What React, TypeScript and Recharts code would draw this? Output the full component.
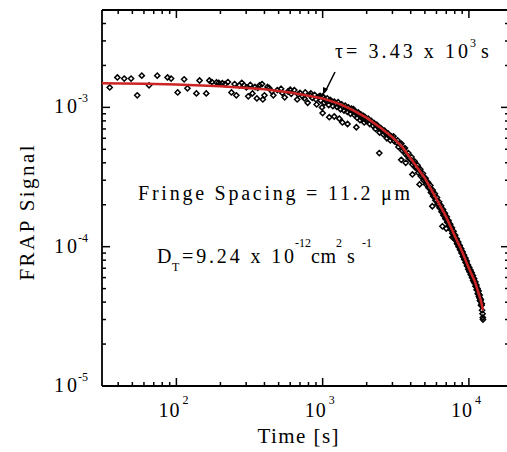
import { ComposedChart, Scatter, XAxis, YAxis, ReferenceLine } from "recharts";

const FONT = "Liberation Serif";
const INK = "#000";
const FIT_RED = "#cc2424";

// plot box in px (used only for tick marks on the opposite sides)
const PLOT_TOP = 10;
const PLOT_BOTTOM = 386;
const PLOT_LEFT = 102;
const PLOT_RIGHT = 509;

const X_DOMAIN = [31, 18800];
const Y_DOMAIN = [1e-5, 5e-3];

const xTicks = [
  40, 50, 60, 70, 80, 90, 100, 200, 300, 400, 500, 600, 700, 800, 900, 1000,
  2000, 3000, 4000, 5000, 6000, 7000, 8000, 9000, 10000,
];
const yTicks = [
  1e-5, 2e-5, 3e-5, 4e-5, 5e-5, 6e-5, 7e-5, 8e-5, 9e-5, 1e-4, 2e-4, 3e-4, 4e-4,
  5e-4, 6e-4, 7e-4, 8e-4, 9e-4, 1e-3, 2e-3, 3e-3, 4e-3,
];

// FRAP data (time in s, signal)
const earlyTime = [
  35, 39.5, 44, 49, 54, 58, 65, 74, 87, 92, 102, 113, 119, 137, 144, 160, 168,
  175, 188, 195, 206, 215, 225, 238, 250, 257, 270, 280, 290, 301, 310, 320,
  331, 345, 355, 360, 370, 385, 390, 400, 420,
];
const earlySignal = [
  1.39e-3, 1.64e-3, 1.61e-3, 1.61e-3, 1.22e-3, 1.69e-3, 1.44e-3, 1.69e-3,
  1.64e-3, 1.61e-3, 1.28e-3, 1.59e-3, 1.37e-3, 1.26e-3, 1.56e-3, 1.26e-3,
  1.56e-3, 1.52e-3, 1.51e-3, 1.5e-3, 1.49e-3, 1.47e-3, 1.52e-3, 1.28e-3,
  1.47e-3, 1.22e-3, 1.44e-3, 1.5e-3, 1.44e-3, 1.39e-3, 1.2e-3, 1.45e-3,
  1.26e-3, 1.4e-3, 1.16e-3, 1.38e-3, 1.44e-3, 1.47e-3, 1.14e-3, 1.22e-3,
  1.4e-3,
];

const midTime = [
  430, 450, 460, 490, 520, 530, 550, 580, 600, 610, 640, 670, 680, 700, 730,
  750, 760, 790, 820, 830, 850, 880, 900, 910, 940, 960, 970, 990, 1000, 1000,
];
const midSignal = [
  1.38e-3, 1.3e-3, 1.22e-3, 1.33e-3, 1.36e-3, 1.27e-3, 1.18e-3, 1.3e-3,
  1.34e-3, 1.25e-3, 1.33e-3, 1.14e-3, 1.24e-3, 1.27e-3, 1.2e-3, 1.16e-3,
  1.28e-3, 1.08e-3, 1.22e-3, 1.26e-3, 1.17e-3, 1.23e-3, 1.14e-3, 1.05e-3,
  1.19e-3, 1.21e-3, 1.12e-3, 1.0e-3, 9.1e-4, 1.2e-3,
];

const bandTime = [
  1000, 1025, 1050, 1075, 1100, 1125, 1150, 1175, 1200, 1225, 1250, 1275,
  1300, 1325, 1350, 1375, 1400, 1425, 1450, 1475, 1500, 1525, 1550, 1575,
  1600, 1625, 1650, 1675, 1700, 1725, 1750, 1775, 1800, 1825, 1850, 1875,
  1900, 1925, 1950, 1975, 2000, 2050, 2100, 2150, 2200, 2250, 2300, 2350,
  2400, 2450, 2500, 2550, 2600, 2650, 2700, 2750, 2800, 2850, 2900, 2950,
  3000, 1110, 1200, 1300, 1365, 1480, 1700, 2440,
];
const bandSignal = [
  1.19e-3, 1.08e-3, 1.12e-3, 1.16e-3, 1.04e-3, 1.13e-3, 1.11e-3, 1.02e-3,
  1.1e-3, 1.06e-3, 1.01e-3, 1.09e-3, 1.04e-3, 9.7e-4, 1.05e-3, 1.01e-3,
  9.5e-4, 1.03e-3, 9.9e-4, 9.3e-4, 1.0e-3, 9.6e-4, 9.0e-4, 9.8e-4, 9.4e-4,
  9.7e-4, 8.8e-4, 9.3e-4, 9.0e-4, 8.4e-4, 9.2e-4, 8.8e-4, 8.1e-4, 8.9e-4,
  8.6e-4, 8.3e-4, 8.7e-4, 7.8e-4, 8.5e-4, 8.2e-4, 8.0e-4, 8.3e-4, 7.6e-4,
  8.0e-4, 7.4e-4, 7.7e-4, 7.0e-4, 7.5e-4, 7.2e-4, 6.6e-4, 7.1e-4, 6.8e-4,
  6.4e-4, 6.8e-4, 6.5e-4, 6.0e-4, 6.5e-4, 6.2e-4, 5.8e-4, 6.2e-4, 6.0e-4,
  8.5e-4, 8.6e-4, 8.3e-4, 7.8e-4, 7.6e-4, 7.2e-4, 4.7e-4,
];

const tailTime = [
  3100, 3200, 3300, 3400, 3500, 3600, 3700, 3800, 3900, 4000, 4100, 4200,
  4300, 4400, 4500, 4600, 4700, 4800, 4900, 5000, 5100, 5200, 5300, 5400,
  5500, 5600, 5700, 5800, 5900, 6000, 6100, 6200, 6300, 6400, 6500, 6600,
  6700, 6800, 6900, 7000, 7100, 7200, 7300, 7400, 7500, 7600, 7700, 7800,
  7900, 8000, 8100, 8200, 8300, 8400, 8500, 8600, 8700, 8800, 8900, 9000,
  9100, 9200, 9300, 9400, 9500, 9600, 9700, 9800, 9900, 10000, 10100, 10200,
  10300, 10400, 10500, 10600, 10700, 10800, 10900, 11000, 11100, 11200, 11300,
  11400, 11500, 11600, 11700, 11800, 11900, 12000, 12100, 12200, 12300, 12400,
  12450, 12480,
];
const tailSignal = [
  5.7e-4, 5.6e-4, 5.2e-4, 5.4e-4, 4.9e-4, 5.0e-4, 4.6e-4, 4.5e-4, 4.3e-4,
  4.2e-4, 3.9e-4, 4.0e-4, 3.7e-4, 3.7e-4, 3.4e-4, 3.5e-4, 3.2e-4, 3.25e-4,
  3.0e-4, 3.05e-4, 2.8e-4, 2.85e-4, 2.65e-4, 2.65e-4, 2.45e-4, 2.48e-4,
  2.3e-4, 2.32e-4, 2.15e-4, 2.16e-4, 2.02e-4, 2.03e-4, 1.9e-4, 1.92e-4,
  1.78e-4, 1.81e-4, 1.68e-4, 1.7e-4, 1.59e-4, 1.6e-4, 1.5e-4, 1.51e-4,
  1.41e-4, 1.42e-4, 1.33e-4, 1.34e-4, 1.25e-4, 1.25e-4, 1.18e-4, 1.18e-4,
  1.11e-4, 1.12e-4, 1.05e-4, 1.06e-4, 1.0e-4, 1.01e-4, 9.5e-5, 9.6e-5, 9.0e-5,
  9.1e-5, 8.5e-5, 8.6e-5, 8.1e-5, 8.2e-5, 7.7e-5, 7.7e-5, 7.3e-5, 7.3e-5,
  6.9e-5, 6.9e-5, 6.6e-5, 6.6e-5, 6.3e-5, 6.3e-5, 6.0e-5, 6.0e-5, 5.7e-5,
  5.8e-5, 5.5e-5, 5.5e-5, 5.2e-5, 5.2e-5, 4.9e-5, 4.9e-5, 4.6e-5, 4.6e-5,
  4.4e-5, 4.3e-5, 4.1e-5, 4.1e-5, 3.8e-5, 3.8e-5, 3.5e-5, 3.3e-5, 3.1e-5,
  3.0e-5,
];

const upperTime = [
  3050, 3250, 3450, 3650, 3850, 4050, 4250, 4450, 4650, 4850, 5050, 5250,
  5450, 5650, 5850, 6050, 6250, 6450, 6650, 6850, 7050, 7250, 7450, 7650,
  7850, 8050, 8250, 8450, 8650, 8850, 9050, 9250, 9450, 9650, 9850, 10050,
  10250, 10450, 10650, 10850, 11050, 11250, 11450, 11650, 11850, 12050, 12250,
  3450, 3700, 4110, 4600, 5620, 6590, 7000, 7710,
];
const upperSignal = [
  6.2e-4, 5.8e-4, 5.5e-4, 5.1e-4, 4.7e-4, 4.4e-4, 4.1e-4, 3.85e-4, 3.6e-4,
  3.35e-4, 3.1e-4, 2.9e-4, 2.75e-4, 2.55e-4, 2.4e-4, 2.25e-4, 2.1e-4, 1.97e-4,
  1.85e-4, 1.74e-4, 1.64e-4, 1.54e-4, 1.45e-4, 1.37e-4, 1.29e-4, 1.21e-4,
  1.14e-4, 1.08e-4, 1.02e-4, 9.7e-5, 9.2e-5, 8.7e-5, 8.3e-5, 7.9e-5, 7.4e-5,
  7.1e-5, 6.8e-5, 6.5e-5, 6.2e-5, 5.9e-5, 5.6e-5, 5.3e-5, 5.0e-5, 4.8e-5,
  4.5e-5, 4.2e-5, 3.9e-5, 4.2e-4, 4.0e-4, 3.3e-4, 2.8e-4, 1.95e-4, 1.4e-4,
  1.35e-4, 1.17e-4,
];

// single-exponential fit curve (tau = 3.43e3 s)
const fitTime = [
  30, 60, 100, 200, 400, 600, 800, 1000, 1300, 1600, 2000, 2500, 3000, 3500,
  4000, 5000, 6000, 7000, 8000, 9000, 10000, 11000, 12000, 12500,
];
const fitSignal = [
  1.49e-3, 1.48e-3, 1.46e-3, 1.42e-3, 1.35e-3, 1.28e-3, 1.21e-3, 1.16e-3,
  1.06e-3, 9.6e-4, 8.4e-4, 7.1e-4, 6.1e-4, 5.2e-4, 4.3e-4, 3.1e-4, 2.2e-4,
  1.63e-4, 1.2e-4, 9.2e-5, 7.0e-5, 5.6e-5, 4.2e-5, 3.5e-5,
];

const toPoints = (t: number[], s: number[]) => t.map((v, i) => ({ t: v, s: s[i] }));

const measured = [
  ...toPoints(earlyTime, earlySignal),
  ...toPoints(midTime, midSignal),
  ...toPoints(bandTime, bandSignal),
  ...toPoints(tailTime, tailSignal),
  ...toPoints(upperTime, upperSignal),
];
const fit = toPoints(fitTime, fitSignal);

const isDecade = (v: number) => {
  const l = Math.log10(v);
  return Math.abs(l - Math.round(l)) < 1e-6;
};

const textStyle = { fontFamily: FONT };

const XTick = ({ x, payload }: any) => {
  const v = payload.value;
  const major = isDecade(v);
  const len = major ? 8 : 4;
  return (
    <g>
      <line x1={x} x2={x} y1={PLOT_BOTTOM} y2={PLOT_BOTTOM - len} stroke={INK} strokeWidth={1.5} />
      <line x1={x} x2={x} y1={PLOT_TOP} y2={PLOT_TOP + len} stroke={INK} strokeWidth={1.5} />
      {major && (
        <>
          <text x={x + 3} y={417} textAnchor="end" style={textStyle} fontSize={20} fill={INK} textLength={21} lengthAdjust="spacing">
            10
          </text>
          <text x={x + 6} y={404} style={textStyle} fontSize={12} fill={INK}>
            {Math.round(Math.log10(v))}
          </text>
        </>
      )}
    </g>
  );
};

const YTick = ({ y, payload }: any) => {
  const v = payload.value;
  const major = isDecade(v);
  const len = major ? 8 : 4;
  return (
    <g>
      <line x1={PLOT_LEFT} x2={PLOT_LEFT + len} y1={y} y2={y} stroke={INK} strokeWidth={1.5} />
      <line x1={PLOT_RIGHT} x2={PLOT_RIGHT - len} y1={y} y2={y} stroke={INK} strokeWidth={1.5} />
      {major && (
        <>
          <text x={77} y={y + 6} textAnchor="end" style={textStyle} fontSize={20} fill={INK} textLength={23} lengthAdjust="spacing">
            10
          </text>
          <text x={78} y={y - 5} style={textStyle} fontSize={12} fill={INK}>
            {Math.round(Math.log10(v))}
          </text>
        </>
      )}
    </g>
  );
};

const Diamond = ({ cx, cy }: any) => (
  <path
    d={`M${cx},${cy - 2.6}L${cx + 2.6},${cy}L${cx},${cy + 2.6}L${cx - 2.6},${cy}Z`}
    fill="none"
    stroke={INK}
    strokeWidth={1.5}
  />
);

export default function App() {
  return (
    <div style={{ position: "absolute", left: 0, top: 0, width: 507, height: 452, overflow: "hidden", background: "#fff" }}>
      <ComposedChart width={512} height={452} margin={{ top: PLOT_TOP, right: 3, bottom: 0, left: 0 }}>
        <XAxis
          dataKey="t"
          type="number"
          scale="log"
          domain={X_DOMAIN}
          ticks={xTicks}
          interval={0}
          allowDataOverflow
          height={66}
          tickLine={false}
          tickSize={0}
          tick={<XTick />}
          axisLine={{ stroke: INK, strokeWidth: 1.8 }}
        />
        <YAxis
          dataKey="s"
          type="number"
          scale="log"
          domain={Y_DOMAIN}
          ticks={yTicks}
          interval={0}
          allowDataOverflow
          width={PLOT_LEFT}
          tickLine={false}
          tickSize={0}
          tick={<YTick />}
          axisLine={{ stroke: INK, strokeWidth: 1.8 }}
        />
        <ReferenceLine y={Y_DOMAIN[1]} stroke={INK} strokeWidth={1.8} />
        <ReferenceLine x={X_DOMAIN[1]} stroke={INK} strokeWidth={1.8} />
        <Scatter data={measured} shape={<Diamond />} isAnimationActive={false} />
        <Scatter
          data={fit}
          fill={FIT_RED}
          stroke={FIT_RED}
          line={{ stroke: FIT_RED, strokeWidth: 2.5 }}
          lineType="joint"
          shape={() => <g />}
          isAnimationActive={false}
        />
      </ComposedChart>

      <svg
        width={507}
        height={452}
        style={{ position: "absolute", left: 0, top: 0, pointerEvents: "none", fontFamily: FONT }}
        fill={INK}
      >
        <text x={298} y={443} textAnchor="middle" fontSize={21} textLength={81} lengthAdjust="spacing">
          Time [s]
        </text>
        <text
          x={0}
          y={0}
          transform="translate(34,213) rotate(-90)"
          textAnchor="middle"
          fontSize={21}
          textLength={135}
          lengthAdjust="spacing"
        >
          FRAP Signal
        </text>

        <text x={335} y={58} fontSize={20} textLength={133} lengthAdjust="spacing">
          τ= 3.43 x 10
        </text>
        <text x={470} y={47} fontSize={12}>3</text>
        <text x={481} y={58} fontSize={20}>s</text>
        <line x1={335} y1={72} x2={325} y2={92} stroke={INK} strokeWidth={1.5} />
        <path d="M323,95 L323,87 L328,89 Z" fill={INK} />

        <text x={138} y={200} fontSize={20} textLength={272} lengthAdjust="spacing">
          Fringe Spacing = 11.2 μm
        </text>

        <text x={157} y={263} fontSize={20}>D</text>
        <text x={172} y={271} fontSize={12}>T</text>
        <text x={182} y={263} fontSize={20} textLength={112} lengthAdjust="spacing">
          =9.24 x 10
        </text>
        <text x={295} y={247} fontSize={12}>-12</text>
        <text x={311} y={263} fontSize={20} textLength={25} lengthAdjust="spacing">
          cm
        </text>
        <text x={336} y={247} fontSize={12}>2</text>
        <text x={347} y={263} fontSize={20}>s</text>
        <text x={362} y={247} fontSize={12}>-1</text>
      </svg>
    </div>
  );
}
